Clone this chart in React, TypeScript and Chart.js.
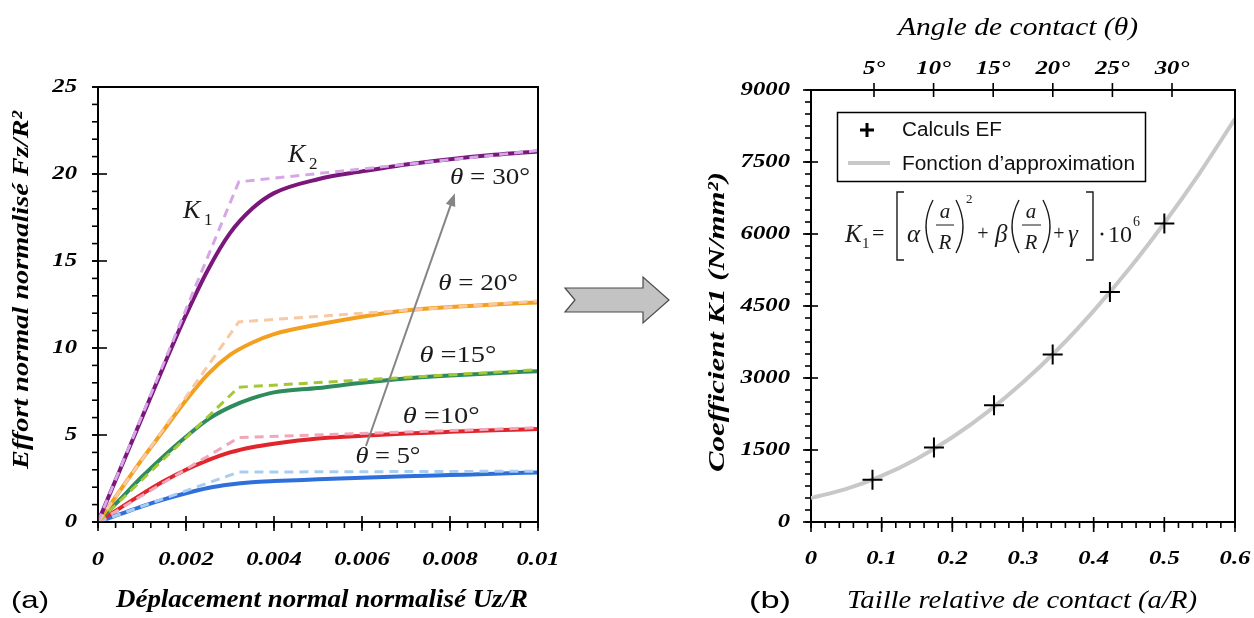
import React, { useEffect, useRef } from "react";
import { Chart, registerables } from "chart.js";

Chart.register(...registerables);

// ---------------- (a) data ----------------
const dispX = [0, 0.0005, 0.001, 0.0015, 0.002, 0.0025, 0.003, 0.0035, 0.004, 0.005, 0.006, 0.007, 0.008, 0.009, 0.01];
const fz30 = [0, 3.0, 6.0, 9.0, 11.9, 14.5, 16.6, 18.0, 18.9, 19.7, 20.15, 20.55, 20.85, 21.1, 21.3];
const fz20 = [0, 1.8, 3.6, 5.3, 7.0, 8.5, 9.6, 10.3, 10.8, 11.35, 11.8, 12.15, 12.35, 12.5, 12.62];
const fz15 = [0, 1.3, 2.6, 3.8, 4.9, 5.9, 6.6, 7.1, 7.45, 7.7, 8.0, 8.25, 8.42, 8.55, 8.67];
const fz10 = [0, 0.8, 1.6, 2.35, 3.0, 3.55, 4.0, 4.3, 4.5, 4.8, 4.95, 5.08, 5.18, 5.27, 5.35];
const fz5 = [0, 0.45, 0.9, 1.3, 1.65, 1.95, 2.15, 2.28, 2.35, 2.45, 2.55, 2.63, 2.7, 2.77, 2.85];

const bilinX = [0, 0.0032, 0.01];
const bilin30 = [0, 19.55, 21.35];
const bilin20 = [0, 11.5, 12.7];
const bilin15 = [0, 7.75, 8.75];
const bilin10 = [0, 4.85, 5.42];
const bilin5 = [0, 2.87, 2.92];

const curveAngles = [30, 20, 15, 10, 5];
const leftXTicks = [0, 0.002, 0.004, 0.006, 0.008, 0.01];
const leftYTicks = [0, 5, 10, 15, 20, 25];

// ---------------- (b) data ----------------
const aR = [0.087, 0.174, 0.259, 0.342, 0.423, 0.5];
const k1FE = [880, 1550, 2430, 3490, 4790, 6220];
const fitAR = [0, 0.05, 0.1, 0.15, 0.2, 0.25, 0.3, 0.35, 0.4, 0.45, 0.5, 0.55, 0.6];
const fitK1 = [500, 690, 960, 1320, 1765, 2295, 2910, 3610, 4400, 5270, 6230, 7270, 8400];
const rightXTicks = [0, 0.1, 0.2, 0.3, 0.4, 0.5, 0.6];
const rightYTicks = [0, 1500, 3000, 4500, 6000, 7500, 9000];
const angleTicks = [5, 10, 15, 20, 25, 30];

// ---------------- helpers ----------------
const W = 1254;
const H = 618;
const SERIF = '"Liberation Serif", "Times New Roman", Times, serif';
const SANS = '"Liberation Sans", Arial, Helvetica, sans-serif';
const TICK_FONT = `italic bold 19px ${SERIF}`;
const TICK_SX = 1.3;

type Run = { t: string; f: string };
type TOpts = { align?: "left" | "center" | "right"; width?: number; sx?: number; rot?: number; color?: string };

function textRuns(ctx: CanvasRenderingContext2D, runs: Run[], x: number, y: number, o: TOpts) {
  let total = 0;
  const ws = runs.map((r) => {
    ctx.font = r.f;
    const w = ctx.measureText(r.t).width;
    total += w;
    return w;
  });
  const sx = o.width ? o.width / total : o.sx ?? 1;
  ctx.save();
  ctx.translate(x, y);
  if (o.rot) ctx.rotate(o.rot);
  ctx.scale(sx, 1);
  ctx.fillStyle = o.color ?? "#000";
  ctx.textBaseline = "middle";
  ctx.textAlign = "left";
  let cx = o.align === "center" ? -total / 2 : o.align === "right" ? -total : 0;
  runs.forEach((r, i) => {
    ctx.font = r.f;
    ctx.fillText(r.t, cx, 0);
    cx += ws[i];
  });
  ctx.restore();
}

type AxisSpec = {
  id: string;
  side: "left" | "bottom" | "top";
  inLen: number;
  outLen: number;
  minorStep?: number;
  minorLen?: number;
  gap: number;
};

function drawAxis(chart: any, spec: AxisSpec) {
  const s = chart.scales[spec.id];
  const ctx: CanvasRenderingContext2D = chart.ctx;
  const ca = chart.chartArea;
  const axPos = spec.side === "left" ? ca.left : spec.side === "bottom" ? ca.bottom : ca.top;
  ctx.save();
  ctx.strokeStyle = "#000";
  ctx.lineWidth = 1.6;
  const tick = (p: number, out: number, inn: number) => {
    ctx.beginPath();
    if (spec.side === "left") {
      ctx.moveTo(axPos - out, p);
      ctx.lineTo(axPos + inn, p);
    } else if (spec.side === "bottom") {
      ctx.moveTo(p, axPos + out);
      ctx.lineTo(p, axPos - inn);
    } else {
      ctx.moveTo(p, axPos - out);
      ctx.lineTo(p, axPos + inn);
    }
    ctx.stroke();
  };
  if (spec.minorStep) {
    const n = Math.round((s.max - s.min) / spec.minorStep);
    for (let i = 0; i <= n; i++) tick(s.getPixelForValue(s.min + i * spec.minorStep), spec.minorLen ?? 6, 0);
  }
  s.ticks.forEach((t: any) => tick(s.getPixelForValue(t.value), spec.outLen, spec.inLen));
  s.ticks.forEach((t: any) => {
    const p = s.getPixelForValue(t.value);
    const run = [{ t: String(t.label), f: TICK_FONT }];
    if (spec.side === "left") textRuns(ctx, run, axPos - spec.gap, p, { align: "right", sx: TICK_SX });
    else if (spec.side === "bottom") textRuns(ctx, run, p, axPos + spec.gap, { align: "center", sx: TICK_SX });
    else textRuns(ctx, run, p, axPos - spec.gap, { align: "center", sx: TICK_SX });
  });
  ctx.restore();
}

function fixedTicks(values: number[]) {
  return (scale: any) => {
    scale.ticks = values.map((v) => ({ value: v }));
  };
}

const hiddenGrid = { display: false, drawTicks: false };
const axisBorder = { display: true, color: "#000", width: 2 };

// ---------------- plugins ----------------
const leftDeco = {
  id: "leftDeco",
  afterDraw(chart: any) {
    const ctx: CanvasRenderingContext2D = chart.ctx;
    const ca = chart.chartArea;
    const xs = chart.scales.x;
    const ys = chart.scales.y;
    ctx.save();
    ctx.strokeStyle = "#000";
    ctx.lineWidth = 2;
    ctx.beginPath();
    ctx.moveTo(ca.left, ca.top);
    ctx.lineTo(ca.right, ca.top);
    ctx.lineTo(ca.right, ca.bottom);
    ctx.stroke();
    ctx.restore();

    drawAxis(chart, { id: "x", side: "bottom", inLen: 6, outLen: 9, minorStep: 0.0004, minorLen: 6, gap: 38 });
    drawAxis(chart, { id: "y", side: "left", inLen: 9, outLen: 6, minorStep: 1, minorLen: 6, gap: 21 });

    textRuns(ctx, [{ t: "Effort normal normalisé Fz/R²", f: `italic bold 24px ${SERIF}` }], 22, 290, {
      align: "center",
      width: 358,
      rot: -Math.PI / 2,
    });
    textRuns(ctx, [{ t: "Déplacement normal normalisé Uz/R", f: `italic bold 25px ${SERIF}` }], 322, 601, {
      align: "center",
      width: 412,
    });
    textRuns(ctx, [{ t: "(a)", f: `24px ${SANS}` }], 30, 601, { align: "center", width: 38 });

    // theta labels
    const thetaPos: Record<number, [number, number, number, string]> = {
      30: [0.00891, 19.77, 80, " = "],
      20: [0.00864, 13.68, 80, " = "],
      15: [0.00818, 9.54, 77, " ="],
      10: [0.0078, 6.03, 77, " ="],
      5: [0.00659, 3.74, 65, " = "],
    };
    curveAngles.forEach((a) => {
      const [dx, dy, w, eq] = thetaPos[a];
      textRuns(
        ctx,
        [
          { t: "θ", f: `italic 24px ${SERIF}` },
          { t: `${eq}${a}°`, f: `24px ${SERIF}` },
        ],
        xs.getPixelForValue(dx),
        ys.getPixelForValue(dy),
        { align: "center", width: w, color: "#1a1a1a" }
      );
    });

    // K1 / K2
    ctx.save();
    ctx.fillStyle = "#1a1a1a";
    ctx.textBaseline = "alphabetic";
    ctx.textAlign = "left";
    ctx.font = `italic 26px ${SERIF}`;
    ctx.fillText("K", 183, 218);
    ctx.fillText("K", 288, 162);
    ctx.font = `17px ${SERIF}`;
    ctx.fillText("1", 204, 225);
    ctx.fillText("2", 309, 169);
    ctx.restore();

    // gray annotation arrow
    const x0 = xs.getPixelForValue(0.00609);
    const y0 = ys.getPixelForValue(4.37);
    const x1 = xs.getPixelForValue(0.00811);
    const y1 = ys.getPixelForValue(18.9);
    const ang = Math.atan2(y1 - y0, x1 - x0);
    ctx.save();
    ctx.strokeStyle = "#858585";
    ctx.fillStyle = "#858585";
    ctx.lineWidth = 2;
    ctx.beginPath();
    ctx.moveTo(x0, y0);
    ctx.lineTo(x1 - 10 * Math.cos(ang), y1 - 10 * Math.sin(ang));
    ctx.stroke();
    ctx.beginPath();
    ctx.moveTo(x1, y1);
    ctx.lineTo(x1 - 13 * Math.cos(ang) + 5 * Math.sin(ang), y1 - 13 * Math.sin(ang) - 5 * Math.cos(ang));
    ctx.lineTo(x1 - 13 * Math.cos(ang) - 5 * Math.sin(ang), y1 - 13 * Math.sin(ang) + 5 * Math.cos(ang));
    ctx.closePath();
    ctx.fill();
    ctx.restore();

    // big block arrow between panels
    ctx.save();
    ctx.fillStyle = "#c3c3c3";
    ctx.strokeStyle = "#4a4a4a";
    ctx.lineWidth = 1.2;
    ctx.beginPath();
    ctx.moveTo(565, 288);
    ctx.lineTo(643, 288);
    ctx.lineTo(643, 277);
    ctx.lineTo(669, 300);
    ctx.lineTo(643, 323);
    ctx.lineTo(643, 312);
    ctx.lineTo(565, 312);
    ctx.lineTo(575, 300);
    ctx.closePath();
    ctx.fill();
    ctx.stroke();
    ctx.restore();
  },
};

const rightDeco = {
  id: "rightDeco",
  afterDraw(chart: any) {
    const ctx: CanvasRenderingContext2D = chart.ctx;
    const ca = chart.chartArea;
    ctx.save();
    ctx.strokeStyle = "#000";
    ctx.lineWidth = 2;
    ctx.beginPath();
    ctx.moveTo(ca.right, ca.top);
    ctx.lineTo(ca.right, ca.bottom);
    ctx.stroke();
    ctx.restore();

    drawAxis(chart, { id: "x", side: "bottom", inLen: 5, outLen: 10, minorStep: 0.02, minorLen: 6, gap: 37 });
    drawAxis(chart, { id: "y", side: "left", inLen: 7, outLen: 8, minorStep: 250, minorLen: 6, gap: 21 });
    drawAxis(chart, { id: "x2", side: "top", inLen: 7, outLen: 7, gap: 21 });

    textRuns(ctx, [{ t: "Angle de contact (θ)", f: `italic 26px ${SERIF}` }], 1018, 28, { align: "center", width: 240 });
    textRuns(ctx, [{ t: "Taille relative de contact (a/R)", f: `italic 26px ${SERIF}` }], 1022, 601, {
      align: "center",
      width: 350,
    });
    textRuns(ctx, [{ t: "Coefficient K1 (N/mm²)", f: `italic bold 24px ${SERIF}` }], 718, 322, {
      align: "center",
      width: 300,
      rot: -Math.PI / 2,
    });
    textRuns(ctx, [{ t: "(b)", f: `24px ${SANS}` }], 770, 601, { align: "center", width: 42 });

    // legend
    ctx.save();
    ctx.strokeStyle = "#000";
    ctx.lineWidth = 1.5;
    ctx.strokeRect(837.5, 112.5, 308, 69);
    ctx.lineWidth = 3;
    ctx.beginPath();
    ctx.moveTo(860, 130);
    ctx.lineTo(874, 130);
    ctx.moveTo(867, 123);
    ctx.lineTo(867, 137);
    ctx.stroke();
    ctx.strokeStyle = "#c8c8c8";
    ctx.lineWidth = 4;
    ctx.beginPath();
    ctx.moveTo(848, 163);
    ctx.lineTo(890, 163);
    ctx.stroke();
    ctx.restore();
    textRuns(ctx, [{ t: "Calculs EF", f: `20px ${SANS}` }], 902, 130, { align: "left", width: 100, color: "#111" });
    textRuns(ctx, [{ t: "Fonction d’approximation", f: `20px ${SANS}` }], 902, 164, {
      align: "left",
      width: 233,
      color: "#111",
    });

    // formula
    const F = (s: number, it = false) => `${it ? "italic " : ""}${s}px ${SERIF}`;
    ctx.save();
    ctx.fillStyle = "#1a1a1a";
    ctx.strokeStyle = "#1a1a1a";
    ctx.textBaseline = "alphabetic";
    const put = (t: string, x: number, y: number, f: string, align: CanvasTextAlign = "left") => {
      ctx.font = f;
      ctx.textAlign = align;
      ctx.fillText(t, x, y);
    };
    const line = (pts: number[][]) => {
      ctx.beginPath();
      ctx.moveTo(pts[0][0], pts[0][1]);
      for (let i = 1; i < pts.length; i++) ctx.lineTo(pts[i][0], pts[i][1]);
      ctx.stroke();
    };
    const paren = (xe: number, xm: number) => {
      ctx.beginPath();
      ctx.moveTo(xe, 200);
      ctx.quadraticCurveTo(xm, 226.5, xe, 253);
      ctx.stroke();
    };
    put("K", 845, 242, F(25, true));
    put("1", 862, 248, F(15));
    put("=", 872, 240, F(22));
    ctx.lineWidth = 1.4;
    line([[904, 192], [897, 192], [897, 260], [904, 260]]);
    put("α", 907, 242, F(25, true));
    paren(933, 919);
    put("a", 945, 218, F(21, true), "center");
    ctx.lineWidth = 1;
    line([[936, 225], [954, 225]]);
    put("R", 945, 249, F(21, true), "center");
    ctx.lineWidth = 1.4;
    paren(956, 970);
    put("2", 966, 203, F(13));
    put("+", 983, 240, F(20), "center");
    put("β", 995, 242, F(25, true));
    paren(1019, 1005);
    put("a", 1031, 218, F(21, true), "center");
    ctx.lineWidth = 1;
    line([[1022, 225], [1041, 225]]);
    put("R", 1031, 249, F(21, true), "center");
    ctx.lineWidth = 1.4;
    paren(1043, 1057);
    put("+", 1059, 240, F(20), "center");
    put("γ", 1068, 242, F(25, true));
    line([[1086, 192], [1093, 192], [1093, 260], [1086, 260]]);
    ctx.beginPath();
    ctx.arc(1102, 234, 1.5, 0, Math.PI * 2);
    ctx.fill();
    put("10", 1108, 242, F(24));
    put("6", 1133, 226, F(14));
    ctx.restore();
  },
};

// ---------------- component ----------------
export default function App() {
  const leftRef = useRef<HTMLCanvasElement>(null);
  const rightRef = useRef<HTMLCanvasElement>(null);

  useEffect(() => {
    const series = [
      { solid: fz30, bilin: bilin30, color: "#7b177b", light: "#d6a7e8" },
      { solid: fz20, bilin: bilin20, color: "#f3a021", light: "#f8c9a4" },
      { solid: fz15, bilin: bilin15, color: "#2e8b5c", light: "#a5c736" },
      { solid: fz10, bilin: bilin10, color: "#e0252c", light: "#f2a6ba" },
      { solid: fz5, bilin: bilin5, color: "#2f6fdb", light: "#a9cdf0" },
    ];
    const leftDatasets: any[] = [];
    series.forEach((s, k) => {
      leftDatasets.push({
        label: `θ = ${curveAngles[k]}°`,
        data: dispX.map((x, i) => ({ x, y: s.solid[i] })),
        borderColor: s.color,
        borderWidth: 4,
        pointRadius: 0,
        cubicInterpolationMode: "monotone",
        order: 2,
      });
      leftDatasets.push({
        label: `bilinéaire ${curveAngles[k]}°`,
        data: bilinX.map((x, i) => ({ x, y: s.bilin[i] })),
        borderColor: s.light,
        borderWidth: 3,
        borderDash: [9, 6],
        pointRadius: 0,
        tension: 0,
        order: 1,
      });
    });

    const left = new Chart(leftRef.current!, {
      type: "line",
      data: { datasets: leftDatasets },
      options: {
        animation: false,
        responsive: false,
        devicePixelRatio: 1,
        layout: { padding: { top: 87, right: W - 538, left: 0, bottom: 0 } },
        plugins: { legend: { display: false }, tooltip: { enabled: false } },
        scales: {
          x: {
            type: "linear",
            min: 0,
            max: 0.01,
            afterBuildTicks: fixedTicks(leftXTicks),
            afterFit: (s: any) => {
              s.height = H - 522;
            },
            ticks: { display: false, callback: (v: any) => (v === 0 ? "0" : String(+Number(v).toFixed(3))) },
            grid: hiddenGrid,
            border: axisBorder,
          },
          y: {
            type: "linear",
            min: 0,
            max: 25,
            afterBuildTicks: fixedTicks(leftYTicks),
            afterFit: (s: any) => {
              s.width = 98;
            },
            ticks: { display: false, callback: (v: any) => String(v) },
            grid: hiddenGrid,
            border: axisBorder,
          },
        },
      } as any,
      plugins: [leftDeco],
    });

    const right = new Chart(rightRef.current!, {
      type: "line",
      data: {
        datasets: [
          {
            label: "Calculs EF",
            data: aR.map((x, i) => ({ x, y: k1FE[i] })),
            showLine: false,
            pointStyle: "cross",
            pointRadius: 10,
            pointBorderWidth: 2,
            borderColor: "#000",
            pointBorderColor: "#000",
            order: 1,
          },
          {
            label: "Fonction d’approximation",
            data: fitAR.map((x, i) => ({ x, y: fitK1[i] })),
            borderColor: "#c8c8c8",
            borderWidth: 4,
            pointRadius: 0,
            cubicInterpolationMode: "monotone",
            order: 2,
          },
        ] as any,
      },
      options: {
        animation: false,
        responsive: false,
        devicePixelRatio: 1,
        layout: { padding: { top: 0, right: W - 1235, left: 0, bottom: 0 } },
        plugins: { legend: { display: false }, tooltip: { enabled: false } },
        scales: {
          x: {
            type: "linear",
            position: "bottom",
            min: 0,
            max: 0.6,
            afterBuildTicks: fixedTicks(rightXTicks),
            afterFit: (s: any) => {
              s.height = H - 522;
            },
            ticks: { display: false, callback: (v: any) => (v === 0 ? "0" : Number(v).toFixed(1)) },
            grid: hiddenGrid,
            border: axisBorder,
          },
          x2: {
            type: "linear",
            position: "top",
            min: -0.285,
            max: 35.285,
            afterBuildTicks: fixedTicks(angleTicks),
            afterFit: (s: any) => {
              s.height = 90;
            },
            ticks: { display: false, callback: (v: any) => `${v}°` },
            grid: hiddenGrid,
            border: axisBorder,
          },
          y: {
            type: "linear",
            min: 0,
            max: 9000,
            afterBuildTicks: fixedTicks(rightYTicks),
            afterFit: (s: any) => {
              s.width = 811;
            },
            ticks: { display: false, callback: (v: any) => String(v) },
            grid: hiddenGrid,
            border: axisBorder,
          },
        },
      } as any,
      plugins: [rightDeco],
    });

    return () => {
      left.destroy();
      right.destroy();
    };
  }, []);

  const canvasStyle: React.CSSProperties = { position: "absolute", left: 0, top: 0, width: W, height: H };
  return (
    <div style={{ position: "absolute", left: 0, top: 0, width: W, height: H, background: "#fff", overflow: "hidden" }}>
      <canvas ref={leftRef} width={W} height={H} style={canvasStyle} />
      <canvas ref={rightRef} width={W} height={H} style={canvasStyle} />
    </div>
  );
}
